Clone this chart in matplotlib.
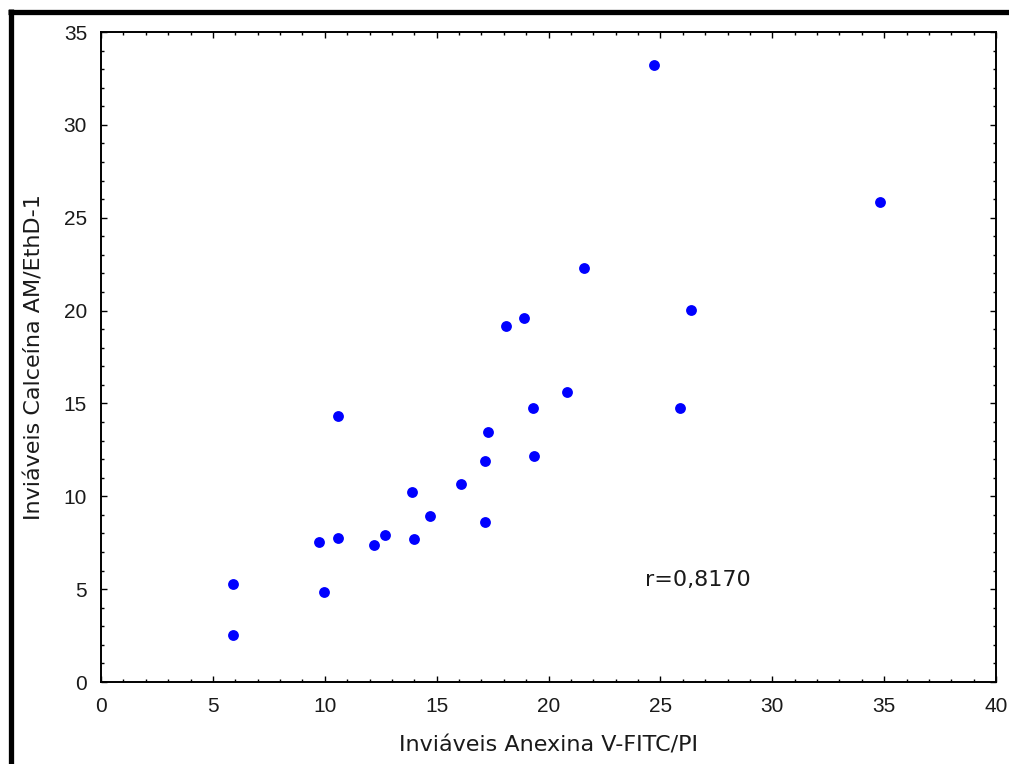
import matplotlib
matplotlib.use("Agg")
import matplotlib.pyplot as plt
from matplotlib.lines import Line2D
from matplotlib.ticker import MultipleLocator

# dados
anexina = [5.91, 5.91, 9.95, 9.74, 10.61, 10.61, 12.19, 12.71, 14.00, 13.91,
           14.70, 16.09, 17.16, 17.16, 17.31, 18.10, 18.91, 19.32, 19.34,
           20.84, 21.57, 24.73, 25.88, 26.38, 34.83]
calceina = [5.26, 2.51, 4.86, 7.55, 7.74, 14.32, 7.38, 7.90, 7.72, 10.25,
            8.94, 10.68, 11.90, 8.60, 13.45, 19.17, 19.62, 14.75, 12.15,
            15.63, 22.29, 33.22, 14.75, 20.05, 25.86]
r_text = "r=0,8170"

plt.rcParams['font.family'] = ['Liberation Sans', 'DejaVu Sans']
txt_color = '#1a1a1a'
label_font = ['DejaVu Sans']

fig = plt.figure(figsize=(10.09, 7.64), dpi=100)
ax = fig.add_axes([101 / 1009, 82 / 764, 895 / 1009, 650 / 764])

ax.plot(anexina, calceina, 'o', color='#0000ff', markersize=7.8, markeredgewidth=0)

ax.set_xlim(0, 40)
ax.set_ylim(0, 35)
ax.xaxis.set_major_locator(MultipleLocator(5))
ax.xaxis.set_minor_locator(MultipleLocator(1))
ax.yaxis.set_major_locator(MultipleLocator(5))
ax.yaxis.set_minor_locator(MultipleLocator(1))
ax.tick_params(which='both', direction='in', top=True, right=True, width=1.0, color='black')
ax.tick_params(which='major', length=4.5)
ax.tick_params(which='minor', length=2.5)
ax.tick_params(axis='x', which='major', pad=11, labelsize=15, labelcolor=txt_color)
ax.tick_params(axis='y', which='major', pad=10, labelsize=15, labelcolor=txt_color)
for s in ax.spines.values():
    s.set_linewidth(1.4)
    s.set_color('black')

ax.set_xlabel('Inviáveis Anexina V-FITC/PI', fontsize=16, color=txt_color, family=label_font)
ax.set_ylabel('Inviáveis Calceína AM/EthD-1', fontsize=16, color=txt_color, family=label_font)
ax.xaxis.set_label_coords(0.5, -0.098, transform=ax.transAxes)
ax.yaxis.set_label_coords(-0.074, 0.5, transform=ax.transAxes)
ax.xaxis.label.set_va('center')
ax.yaxis.label.set_va('center')

ax.text(24.3, 5.5, r_text, fontsize=16, color=txt_color, va='center', ha='left',
        family=label_font)

# moldura preta (topo e esquerda)
fig.add_artist(Line2D([8 / 1009, 1.0], [1 - 11.5 / 764, 1 - 11.5 / 764],
                      transform=fig.transFigure, color='black', linewidth=3.8,
                      solid_capstyle='butt'))
fig.add_artist(Line2D([10.5 / 1009, 10.5 / 1009], [1 - 9 / 764, 0.0],
                      transform=fig.transFigure, color='black', linewidth=3.8,
                      solid_capstyle='butt'))

fig.savefig('out.png', dpi=100)
